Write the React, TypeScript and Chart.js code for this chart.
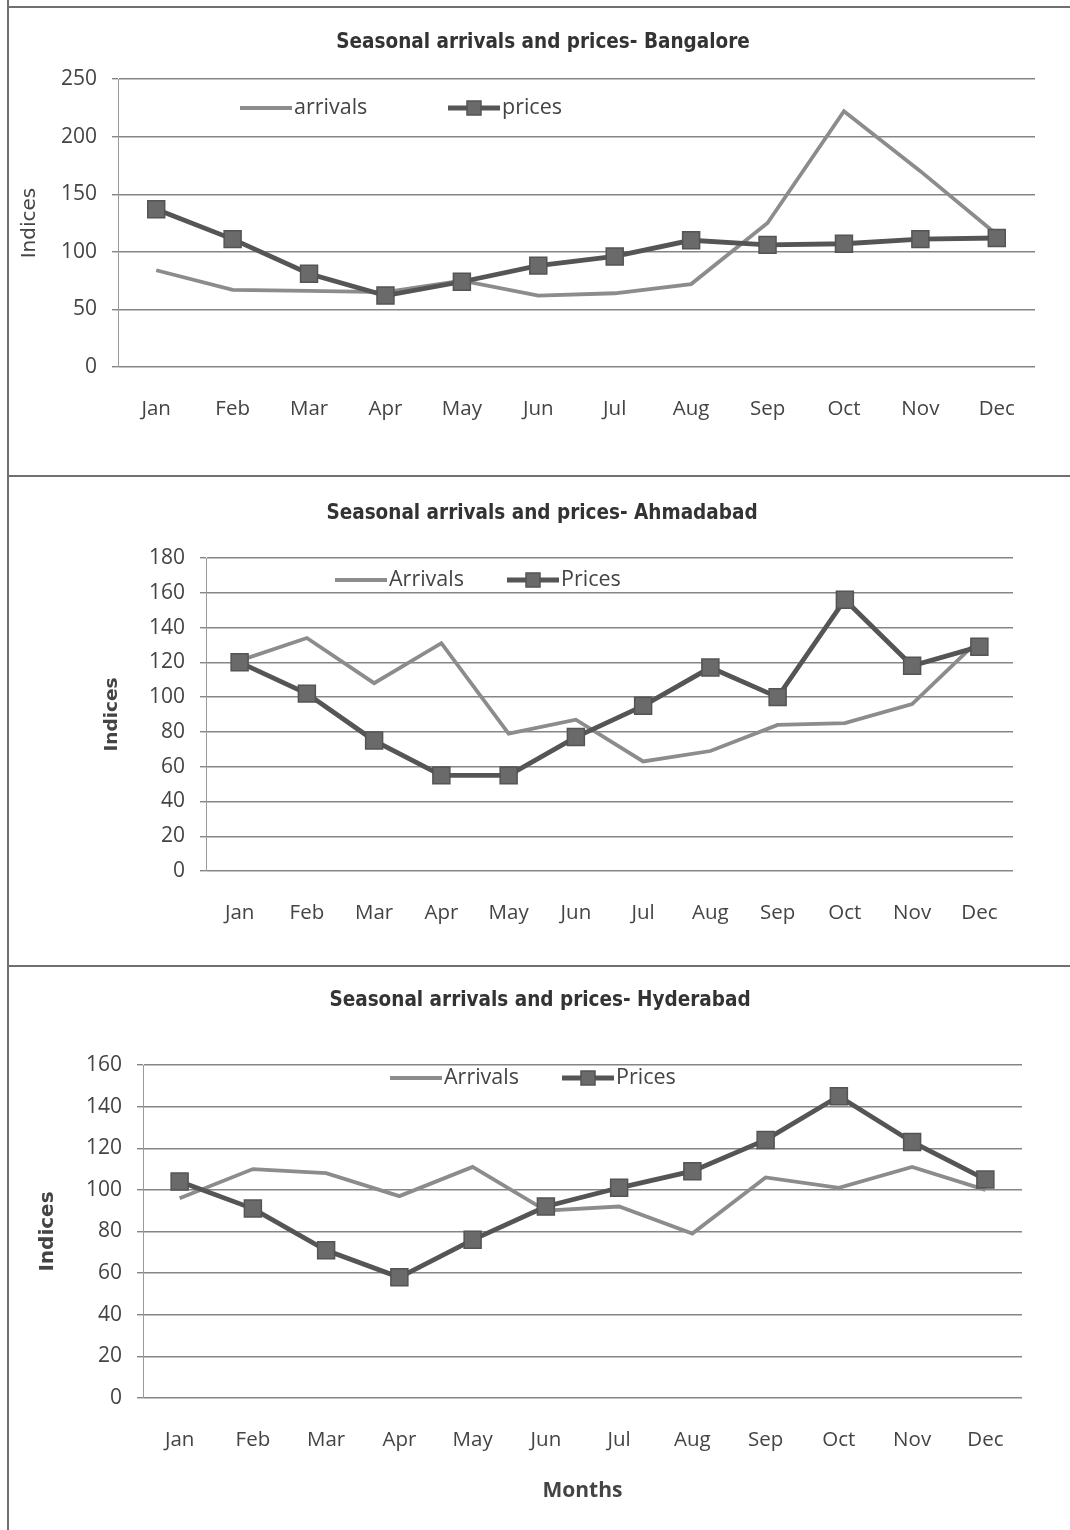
import React, { useEffect, useRef } from 'react';
import { Chart, registerables } from 'chart.js';

Chart.register(...registerables);

const MONTHS = ['Jan', 'Feb', 'Mar', 'Apr', 'May', 'Jun', 'Jul', 'Aug', 'Sep', 'Oct', 'Nov', 'Dec'];

const BLR_ARRIVALS = [84, 67, 66, 65, 75, 62, 64, 72, 125, 222, 170, 115];
const BLR_PRICES = [137, 111, 81, 62, 74, 88, 96, 110, 106, 107, 111, 112];

const AMD_ARRIVALS = [121, 134, 108, 131, 79, 87, 63, 69, 84, 85, 96, 133];
const AMD_PRICES = [120, 102, 75, 55, 55, 77, 95, 117, 100, 156, 118, 129];

const HYD_ARRIVALS = [96, 110, 108, 97, 111, 90, 92, 79, 106, 101, 111, 100];
const HYD_PRICES = [104, 91, 71, 58, 76, 92, 101, 109, 124, 145, 123, 105];

const NARROW = "'DejaVu Sans Condensed', 'Liberation Sans Narrow', sans-serif";
const HUMAN = "'Open Sans', 'Noto Sans', sans-serif";
const WIDE = "'DejaVu Sans', Verdana, sans-serif";

const ARR_COLOR = '#8c8c8c';
const PRICE_COLOR = '#555555';

const panelTextPlugin = {
  id: 'panelText',
  afterDraw(chart: any, _args: any, opts: any) {
    const ctx = chart.ctx as CanvasRenderingContext2D;
    ctx.save();
    ctx.font = `bold ${opts.titleSize}px ${NARROW}`;
    ctx.fillStyle = '#333';
    ctx.textAlign = 'center';
    ctx.textBaseline = 'middle';
    ctx.fillText(opts.title, opts.titleX, opts.titleY);

    const ds = chart.data.datasets;
    const xs = opts.legendXs as number[];
    ds.forEach((d: any, i: number) => {
      const x0 = xs[i];
      const y = opts.legendY;
      const len = 52;
      ctx.strokeStyle = d.borderColor;
      ctx.lineWidth = d.borderWidth;
      ctx.beginPath();
      ctx.moveTo(x0, y);
      ctx.lineTo(x0 + len, y);
      ctx.stroke();
      if (d.pointRadius > 0) {
        const s = 14;
        ctx.fillStyle = d.pointBackgroundColor;
        ctx.strokeStyle = d.pointBorderColor;
        ctx.lineWidth = 1.5;
        ctx.fillRect(x0 + len / 2 - s / 2, y - s / 2, s, s);
        ctx.strokeRect(x0 + len / 2 - s / 2, y - s / 2, s, s);
      }
      ctx.fillStyle = '#444';
      ctx.font = `${opts.legendSize}px ${HUMAN}`;
      ctx.textAlign = 'left';
      ctx.textBaseline = 'middle';
      ctx.fillText(d.label, x0 + len + 2, y);
    });
    ctx.restore();
  },
};

type PanelProps = {
  top: number;
  height: number;
  title: string;
  titleX: number;
  titleY: number;
  legendY: number;
  legendXs: number[];
  labels: string[];
  arrivalsLabel: string;
  pricesLabel: string;
  arrivals: number[];
  prices: number[];
  yMax: number;
  yStep: number;
  area: { l: number; r: number; t: number; b: number };
  yTitleX: number;
  yTitleBold: boolean;
  yTitleSize: number;
  xTitle?: string;
  xTitleY?: number;
};

function Panel(p: PanelProps) {
  const ref = useRef<HTMLCanvasElement | null>(null);
  useEffect(() => {
    if (!ref.current) return;
    const W = 1070;
    const yTitleLH = p.yTitleSize * 1.2;
    const padLeft = p.yTitleX - yTitleLH / 2;
    const yWidth = p.area.l - padLeft;
    let xHeight = 62;
    let padBottom = p.height - p.area.b - xHeight;
    if (p.xTitle && p.xTitleY !== undefined) {
      const lh = 21 * 1.2;
      const scaleBottom = p.xTitleY + lh / 2;
      xHeight = scaleBottom - p.area.b;
      padBottom = p.height - scaleBottom;
    }
    const chart = new Chart(ref.current, {
      type: 'line',
      data: {
        labels: p.labels,
        datasets: [
          {
            label: p.arrivalsLabel,
            data: p.arrivals,
            borderColor: ARR_COLOR,
            backgroundColor: ARR_COLOR,
            borderWidth: 3.8,
            pointRadius: 0,
            pointHoverRadius: 0,
            tension: 0,
            order: 2,
          },
          {
            label: p.pricesLabel,
            data: p.prices,
            borderColor: PRICE_COLOR,
            backgroundColor: '#6a6a6a',
            borderWidth: 4.8,
            pointStyle: 'rect',
            pointRadius: 12,
            pointHoverRadius: 12,
            pointBackgroundColor: '#6a6a6a',
            pointBorderColor: '#545454',
            pointBorderWidth: 1.5,
            tension: 0,
            order: 1,
          },
        ],
      },
      options: {
        animation: false,
        responsive: false,
        maintainAspectRatio: false,
        events: [],
        layout: {
          padding: {
            left: padLeft,
            right: W - p.area.r,
            top: p.area.t,
            bottom: padBottom,
          },
        },
        plugins: {
          legend: { display: false },
          title: { display: false },
          tooltip: { enabled: false },
          panelText: {
            title: p.title,
            titleX: p.titleX,
            titleY: p.titleY,
            titleSize: 20.5,
            legendY: p.legendY,
            legendXs: p.legendXs,
            legendSize: 21.5,
          },
        } as any,
        scales: {
          x: {
            offset: true,
            grid: { display: false, drawTicks: false },
            border: { display: false },
            ticks: {
              padding: 30,
              color: '#444',
              font: { family: HUMAN, size: 20.5 },
              maxRotation: 0,
              autoSkip: false,
            },
            title: p.xTitle
              ? {
                  display: true,
                  text: p.xTitle,
                  color: '#444',
                  font: { family: HUMAN, size: 21, weight: 'bold' },
                  padding: 0,
                }
              : { display: false },
            afterFit: (s: any) => {
              s.height = xHeight;
            },
          },
          y: {
            min: 0,
            max: p.yMax,
            grid: {
              color: '#858585',
              lineWidth: 1.4,
              tickLength: 6,
              drawTicks: true,
            },
            border: { display: true, color: '#9a9a9a', width: 1 },
            ticks: {
              stepSize: p.yStep,
              padding: 15,
              color: '#444',
              font: { family: HUMAN, size: 21 },
            },
            title: {
              display: true,
              text: 'Indices',
              color: '#444',
              font: { family: WIDE, size: p.yTitleSize, weight: p.yTitleBold ? 'bold' : 'normal' },
              padding: 0,
            },
            afterFit: (s: any) => {
              s.width = yWidth;
            },
          },
        },
      },
      plugins: [panelTextPlugin],
    });
    return () => chart.destroy();
  }, []);
  return (
    <canvas
      ref={ref}
      width={1070}
      height={p.height}
      style={{ position: 'absolute', left: 0, top: p.top, width: 1070, height: p.height }}
    />
  );
}

export default function App() {
  useEffect(() => {
    document.body.style.margin = '0';
    document.body.style.background = '#ffffff';
  }, []);
  const line = (style: React.CSSProperties) => (
    <div style={{ position: 'absolute', background: '#707070', ...style }} />
  );
  return (
    <div style={{ position: 'relative', width: 1070, height: 1530, overflow: 'hidden', background: '#fff' }}>
      <Panel
        top={0}
        height={475}
        title="Seasonal arrivals and prices- Bangalore"
        titleX={543}
        titleY={43}
        legendY={108}
        legendXs={[240, 448]}
        labels={MONTHS}
        arrivalsLabel="arrivals"
        pricesLabel="prices"
        arrivals={BLR_ARRIVALS}
        prices={BLR_PRICES}
        yMax={250}
        yStep={50}
        area={{ l: 118, r: 1035, t: 79, b: 367 }}
        yTitleX={30}
        yTitleBold={false}
        yTitleSize={20}
      />
      <Panel
        top={475}
        height={490}
        title="Seasonal arrivals and prices- Ahmadabad"
        titleX={542}
        titleY={39}
        legendY={105}
        legendXs={[335, 507]}
        labels={MONTHS}
        arrivalsLabel="Arrivals"
        pricesLabel="Prices"
        arrivals={AMD_ARRIVALS}
        prices={AMD_PRICES}
        yMax={180}
        yStep={20}
        area={{ l: 206, r: 1013, t: 83, b: 396 }}
        yTitleX={112}
        yTitleBold={true}
        yTitleSize={18.5}
      />
      <Panel
        top={965}
        height={565}
        title="Seasonal arrivals and prices- Hyderabad"
        titleX={540}
        titleY={36}
        legendY={113}
        legendXs={[390, 562]}
        labels={MONTHS}
        arrivalsLabel="Arrivals"
        pricesLabel="Prices"
        arrivals={HYD_ARRIVALS}
        prices={HYD_PRICES}
        yMax={160}
        yStep={20}
        area={{ l: 143, r: 1022, t: 100, b: 433 }}
        yTitleX={48}
        yTitleBold={true}
        yTitleSize={20}
        xTitle="Months"
        xTitleY={526}
      />
      {line({ left: 7, top: 0, width: 1.5, height: 1530 })}
      {line({ left: 7, top: 6, width: 1063, height: 1.5 })}
      {line({ left: 7, top: 475, width: 1063, height: 1.5 })}
      {line({ left: 7, top: 965, width: 1063, height: 1.5 })}
    </div>
  );
}
